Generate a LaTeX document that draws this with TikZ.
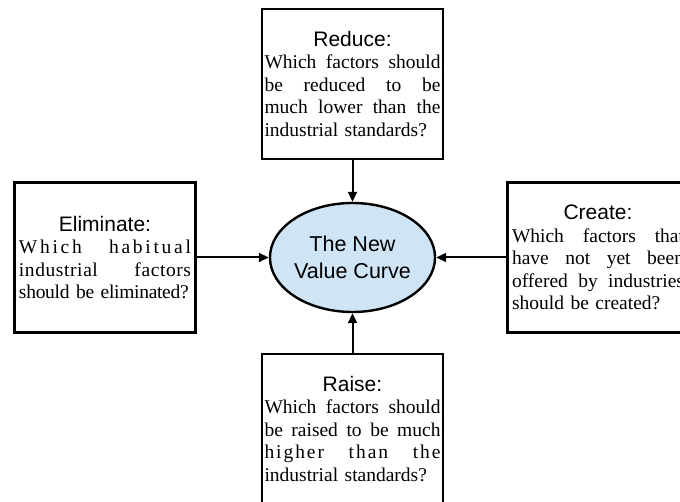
\documentclass[tikz,border=0pt]{standalone}
\usepackage{fontspec}
\setmainfont{Liberation Serif}
\newfontfamily\hdrfont{Liberation Sans}
\usetikzlibrary{arrows.meta, shapes.geometric}
\definecolor{hubblue}{RGB}{207, 229, 245}

\newcommand{\jl}[1]{\makebox[\hsize][s]{\spaceskip=0pt\xspaceskip=0pt #1}}
\newcommand{\hd}[1]{\makebox[\hsize]{\hdrfont\fontsize{21}{24}\selectfont #1}}

\begin{document}
\begin{tikzpicture}[x=1pt, y=-1pt,
    box/.style={draw, line width=2.6pt, rectangle, minimum width=181pt, minimum height=150pt,
        text width=176pt, inner xsep=2.5pt, align=left, font=\fontsize{19.5}{22.5}\selectfont},
    hub/.style={draw, line width=2.4pt, ellipse, fill=hubblue, minimum width=157pt, minimum height=109pt,
        inner sep=0pt, align=center, font=\hdrfont\fontsize{21.5}{27}\selectfont},
    arr/.style={line width=2pt, -{Triangle[length=10pt, width=9pt]}}]
    \useasboundingbox (0,0) rectangle (680,502);

    % centre
    \node[hub] (hub) at (352.5,257.5) {The New\\Value Curve};

    % Reduce (top)
    \node[box] (reduce) at (352.5,84) {\hd{Reduce:}\\
        \jl{Which factors should}\\ \jl{be reduced to be}\\ \jl{much lower than the}\\ industrial standards?};

    % Eliminate (left)
    \node[box, text width=172pt, inner xsep=4.5pt] (elim) at (105,257.5) {\hd{Eliminate:}\\
        \jl{\addfontfeatures{LetterSpace=14}Which habitual}\\ \jl{\addfontfeatures{LetterSpace=3}industrial factors}\\
        \makebox[\hsize][l]{\addfontfeatures{LetterSpace=-1.5}should be eliminated?}};

    % Create (right, runs off the page)
    \node[box, text width=172pt, inner xsep=4.5pt] (create) at (598,257.5) {\hd{Create:}\\
        \jl{Which factors that}\\ \jl{have not yet been}\\ \jl{offered by industries}\\ should be created?};

    % Raise (bottom, runs off the page)
    \node[box] (raise) at (352.5,429) {\hd{Raise:}\\
        \jl{Which factors should}\\ \jl{be raised to be much}\\ \jl{\addfontfeatures{LetterSpace=10}higher than the}\\ industrial standards?};

    % arrows into the centre
    \draw[arr] (reduce) -- (hub);
    \draw[arr] (elim) -- (hub);
    \draw[arr] (create) -- (hub);
    \draw[arr] (raise) -- (hub);
\end{tikzpicture}
\end{document}
